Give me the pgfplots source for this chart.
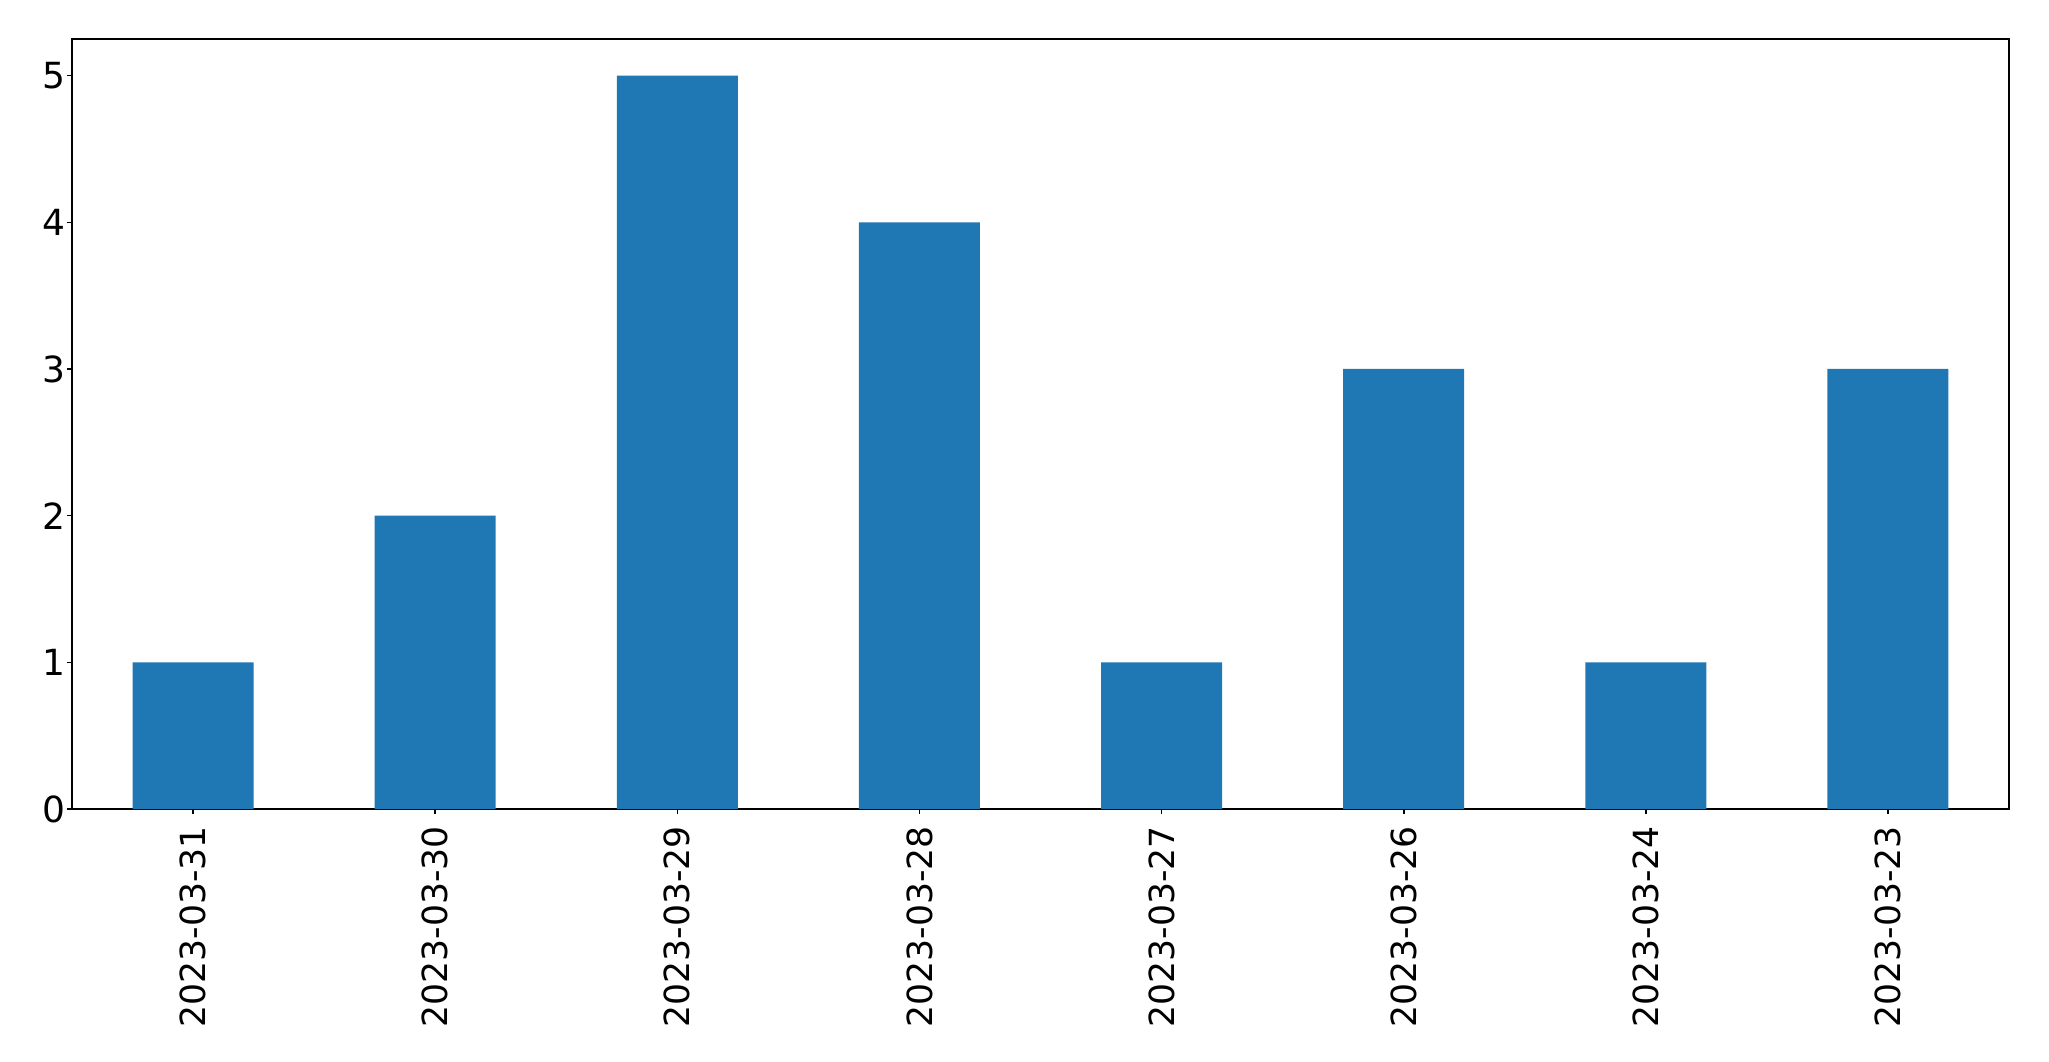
\documentclass[border=0pt]{standalone}
\usepackage{pgfplots}
\pgfplotsset{compat=1.18}
\usepackage{fontspec}
\setmainfont{DejaVu Sans}
\definecolor{mplblue}{HTML}{1F77B4}
\begin{document}
\begin{tikzpicture}
\begin{axis}[
  name=ax,
  at={(0,0)}, anchor=south west,
  scale only axis,
  width=968.5pt, height=385pt,
  xmin=-0.5, xmax=7.5,
  ymin=0, ymax=5.25,
  xtick={0,1,2,3,4,5,6,7},
  xticklabels={2023-03-31,2023-03-30,2023-03-29,2023-03-28,2023-03-27,2023-03-26,2023-03-24,2023-03-23},
  ytick={0,1,2,3,4,5},
  tick pos=left,
  tick align=outside,
  major tick length=2.5pt,
  every tick/.style={black, line width=0.8pt},
  axis line style={line width=0.9pt},
  /pgf/number format/assume math mode=true,
  y tick label style={font=\fontsize{18}{21}\selectfont},
  x tick label style={rotate=90, anchor=east, font=\fontsize{17.3}{20}\selectfont},
  xticklabel shift=2.5pt,
  yticklabel shift=-2.5pt,
]
\addplot[ybar, bar width=0.5, fill=mplblue, draw=none] coordinates {
  (0,1) (1,2) (2,5) (3,4) (4,1) (5,3) (6,1) (7,3)
};
\end{axis}
\pgfresetboundingbox
\path[use as bounding box] ([xshift=-36pt,yshift=-126pt]ax.south west) rectangle ([xshift=20pt,yshift=19.5pt]ax.north east);
\end{tikzpicture}
\end{document}
